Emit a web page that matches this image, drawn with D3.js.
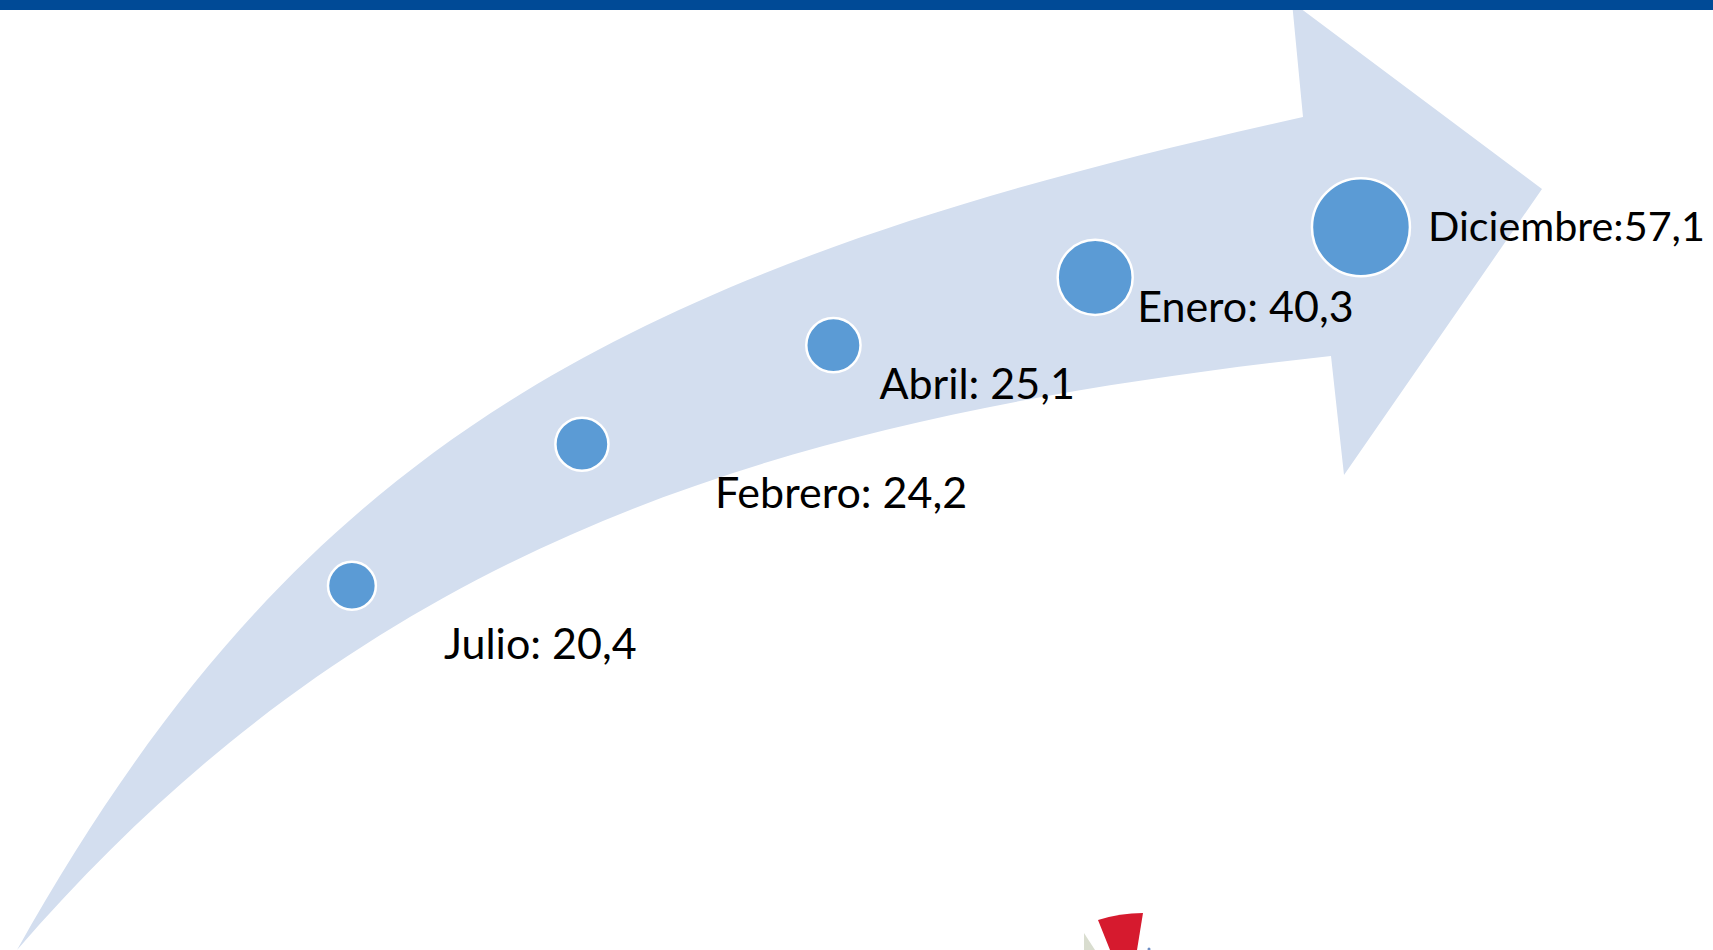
<!DOCTYPE html>
<html>
<head>
<meta charset="utf-8">
<script src="https://cdn.jsdelivr.net/npm/d3@7"></script>
<style>
  body { margin: 0; background: #fff; }
  svg { display: block; }
  .label { font-family: Lato, "Open Sans", sans-serif; font-size: 43px; fill: #000; }
</style>
</head>
<body>
<div id="chart"></div>
<script>
// data: months and their values (shown in order along the arrow)
var months = ["Julio", "Febrero", "Abril", "Enero", "Diciembre"];
var values = [20.4, 24.2, 25.1, 40.3, 57.1];
var separators = [": ", ": ", ": ", ": ", ":"];

// setup
var svgWidth = 1713;
var svgHeight = 950;
var svg = d3.select("#chart")
  .append("svg")
  .attr("width", svgWidth)
  .attr("height", svgHeight);

// arrow outline (decoration, hand traced): two cubic edges + head
var tail = [17, 950];
var upperCtrl = [[300, 445], [620, 268], [1303, 117]];
var lowerCtrl = [[380, 530], [800, 415], [1331, 356]];
var headTop = [1292, 2];
var headTip = [1542, 189];
var headBottom = [1344, 475];

function cubic(p) {
  var path = d3.path();
  path.moveTo(tail[0], tail[1]);
  path.bezierCurveTo(p[0][0], p[0][1], p[1][0], p[1][1], p[2][0], p[2][1]);
  return path.toString();
}

var arrow = d3.path();
arrow.moveTo(tail[0], tail[1]);
arrow.bezierCurveTo(upperCtrl[0][0], upperCtrl[0][1], upperCtrl[1][0], upperCtrl[1][1], upperCtrl[2][0], upperCtrl[2][1]);
arrow.lineTo(headTop[0], headTop[1]);
arrow.lineTo(headTip[0], headTip[1]);
arrow.lineTo(headBottom[0], headBottom[1]);
arrow.lineTo(lowerCtrl[2][0], lowerCtrl[2][1]);
arrow.bezierCurveTo(lowerCtrl[1][0], lowerCtrl[1][1], lowerCtrl[0][0], lowerCtrl[0][1], tail[0], tail[1]);
arrow.closePath();

svg.append("path")
  .attr("d", arrow.toString())
  .attr("fill", "#d3deef");

// read the edges back, to find the middle of the band
function sampler(d) {
  var p = svg.append("path").attr("d", d).attr("fill", "none").attr("stroke", "none");
  var node = p.node(), len = node.getTotalLength(), pts = [];
  for (var i = 0; i <= 800; i++) {
    var q = node.getPointAtLength(len * i / 800);
    pts.push([q.x, q.y]);
  }
  p.remove();
  pts.sort(function(a, b) { return a[0] - b[0]; });
  var bis = d3.bisector(function(d) { return d[0]; }).left;
  return function(x) {
    var i = Math.max(1, Math.min(pts.length - 1, bis(pts, x)));
    var a = pts[i - 1], b = pts[i];
    var t = b[0] === a[0] ? 0 : (x - a[0]) / (b[0] - a[0]);
    return a[1] + t * (b[1] - a[1]);
  };
}
var yUpper = sampler(cubic(upperCtrl));
var yLower = sampler(cubic(lowerCtrl));

var spine = d3.range(18, 1303, 4).map(function(x) {
  return [x, (yUpper(x) + yLower(x)) / 2];
});
spine.push([(upperCtrl[2][0] + lowerCtrl[2][0]) / 2, (upperCtrl[2][1] + lowerCtrl[2][1]) / 2]);
spine.push(headTip);

var spineNode = svg.append("path")
  .attr("d", d3.line()(spine))
  .attr("fill", "none")
  .attr("stroke", "none")
  .node();
var spineLen = spineNode.getTotalLength();

// scales: position along the arrow and bubble size
var posScale = d3.scalePoint()
  .domain(months)
  .range([spineLen * 0.281, spineLen * 0.895]);
var rScale = d3.scaleLinear()
  .domain([0, d3.max(values)])
  .range([10, 49]);

var fmt = d3.formatLocale({ decimal: ",", thousands: ".", grouping: [3], currency: ["", ""] }).format(".1f");

var points = months.map(function(m, i) {
  var p = spineNode.getPointAtLength(posScale(m));
  return { month: m, value: values[i], sep: separators[i], x: p.x, y: p.y };
});

// label offsets from the bubble centre (layout only)
var labelNudge = [[92, 73], [133, 64], [46, 54], [42, 45], [67, 14]];

svg.append("g")
  .selectAll("circle")
  .data(points)
  .enter()
  .append("circle")
  .attr("cx", d => d.x)
  .attr("cy", d => d.y)
  .attr("r", d => rScale(d.value))
  .attr("fill", "#5b9bd5")
  .attr("stroke", "#fff")
  .attr("stroke-width", 2.5);

svg.append("g")
  .selectAll("text")
  .data(points)
  .enter()
  .append("text")
  .attr("class", "label")
  .attr("x", (d, i) => d.x + labelNudge[i][0])
  .attr("y", (d, i) => d.y + labelNudge[i][1])
  .text(d => d.month + d.sep + fmt(d.value))
  .each(function() {
    // keep the last label inside the page
    var x = +this.getAttribute("x"), w = this.getComputedTextLength();
    if (x + w > svgWidth - 8) {
      d3.select(this).style("font-size", (43 * (svgWidth - 8 - x) / w) + "px");
    }
  });

// partial logo at the bottom edge
svg.append("path")
  .attr("d", "M1084,933L1095,950L1084,950Z")
  .attr("fill", "#d9ddcf");
svg.append("path")
  .attr("d", "M1098,920Q1120,913,1143,913L1137,950L1110,950Z")
  .attr("fill", "#d61a2e");
svg.append("circle")
  .attr("cx", 1149).attr("cy", 949).attr("r", 1.5)
  .attr("fill", "#6d8fc4");

// top band
svg.append("rect")
  .attr("x", 0).attr("y", 0)
  .attr("width", svgWidth).attr("height", 10)
  .attr("fill", "#004a96");
</script>
</body>
</html>
